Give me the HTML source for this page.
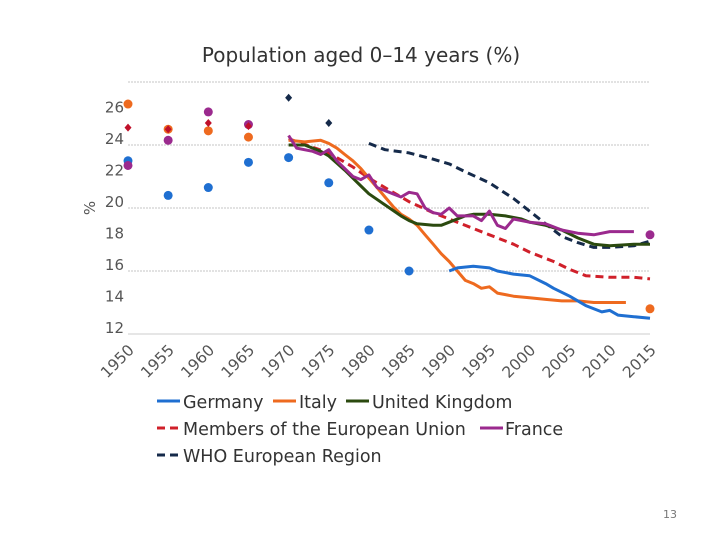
<!DOCTYPE html>
<html><head><meta charset="utf-8"><style>
html,body{margin:0;padding:0;background:#fff;}
svg{display:block;font-family:"DejaVu Sans","Liberation Sans",sans-serif;}
</style></head><body>
<svg id="c" width="720" height="540" viewBox="0 0 720 540">
<text x="361" y="62" text-anchor="middle" font-size="20" fill="#333">Population aged 0–14 years (%)</text>
<g id="grid"></g><g id="axes"></g><g id="marks"></g>
<text transform="translate(95,208) rotate(-90)" text-anchor="middle" font-size="15" fill="#555">%</text>
<g id="legend" font-size="17.5" fill="#333">
<line x1="157" y1="401" x2="180" y2="401" stroke="#1f6fd1" stroke-width="3"/><text x="183" y="408">Germany</text>
<line x1="273" y1="401" x2="296" y2="401" stroke="#ee6a1f" stroke-width="3"/><text x="299" y="408">Italy</text>
<line x1="346" y1="401" x2="369" y2="401" stroke="#2b4a0f" stroke-width="3"/><text x="372" y="408">United Kingdom</text>
<line x1="157" y1="428" x2="180" y2="428" stroke="#d0202a" stroke-width="3" stroke-dasharray="8,5"/><text x="183" y="435">Members of the European Union</text>
<line x1="480" y1="428" x2="503" y2="428" stroke="#9b2a8e" stroke-width="3"/><text x="505" y="435">France</text>
<line x1="157" y1="455" x2="180" y2="455" stroke="#152a4a" stroke-width="3" stroke-dasharray="8,5"/><text x="183" y="462">WHO European Region</text>
</g>
<text x="670" y="518" text-anchor="middle" font-size="11" fill="#777">13</text>
</svg>
<script>
const yTicks=[12,14,16,18,20,22,24,26];
const xTicks=[1950,1955,1960,1965,1970,1975,1980,1985,1990,1995,2000,2005,2010,2015];
const germanyDots=[[1950,23.0],[1955,20.8],[1960,21.3],[1965,22.9],[1970,23.2],[1975,21.6],[1980,18.6],[1985,16.0]];
const italyDots=[[1950,26.6],[1955,25.0],[1960,24.9],[1965,24.5],[2015,13.6]];
const franceDots=[[1950,22.7],[1955,24.3],[1960,26.1],[1965,25.3],[2015,18.3]];
const euDots=[[1950,25.1],[1955,25.0],[1960,25.4],[1965,25.2]];
const whoDots=[[1970,27.0],[1975,25.4]];
const germanyLine=[[1990,16.0],[1991,16.2],[1993,16.3],[1995,16.2],[1996,16.0],[1998,15.8],[2000,15.7],[2002,15.2],[2003,14.9],[2005,14.4],[2007,13.8],[2009,13.4],[2010,13.5],[2011,13.2],[2013,13.1],[2015,13.0]];
const italyLine=[[1970,24.3],[1972,24.2],[1974,24.3],[1975,24.1],[1976,23.8],[1977,23.4],[1978,23.0],[1979,22.5],[1980,21.9],[1981,21.3],[1982,20.7],[1983,20.1],[1984,19.6],[1985,19.3],[1986,18.9],[1987,18.3],[1988,17.7],[1989,17.1],[1990,16.6],[1991,16.0],[1992,15.4],[1993,15.2],[1994,14.9],[1995,15.0],[1996,14.6],[1997,14.5],[1998,14.4],[2000,14.3],[2002,14.2],[2004,14.1],[2006,14.1],[2008,14.0],[2012,14.0]];
const ukLine=[[1970,24.0],[1972,24.0],[1974,23.6],[1975,23.3],[1977,22.4],[1979,21.4],[1980,20.9],[1982,20.2],[1984,19.5],[1985,19.2],[1986,19.0],[1988,18.9],[1989,18.9],[1990,19.1],[1992,19.5],[1993,19.6],[1995,19.6],[1997,19.5],[1999,19.3],[2000,19.1],[2002,18.9],[2004,18.6],[2006,18.1],[2008,17.7],[2010,17.6],[2013,17.7],[2015,17.7]];
const euLine=[[1970,24.4],[1975,23.5],[1978,22.6],[1980,21.9],[1983,21.0],[1985,20.4],[1988,19.7],[1990,19.3],[1993,18.7],[1995,18.3],[1998,17.7],[2000,17.2],[2003,16.6],[2005,16.1],[2007,15.7],[2010,15.6],[2013,15.6],[2015,15.5]];
const franceLine=[[1970,24.6],[1971,23.8],[1973,23.6],[1974,23.4],[1975,23.7],[1976,23.0],[1978,22.0],[1979,21.8],[1980,22.1],[1981,21.3],[1983,20.9],[1984,20.7],[1985,21.0],[1986,20.9],[1987,20.0],[1988,19.7],[1989,19.6],[1990,20.0],[1991,19.5],[1993,19.5],[1994,19.2],[1995,19.8],[1996,18.9],[1997,18.7],[1998,19.3],[2000,19.1],[2002,19.0],[2004,18.6],[2006,18.4],[2008,18.3],[2010,18.5],[2013,18.5]];
const whoLine=[[1980,24.1],[1982,23.7],[1985,23.5],[1988,23.1],[1990,22.8],[1992,22.3],[1995,21.6],[1998,20.6],[2000,19.8],[2002,19.0],[2004,18.2],[2006,17.8],[2008,17.5],[2010,17.5],[2013,17.6],[2015,17.9]];
const NS='http://www.w3.org/2000/svg';
function X(yr){return 128+(yr-1950)*(650-128)/65;}
function Y(v){return 334-(v-12)*15.75;}
function mk(tag,attrs,parent){const e=document.createElementNS(NS,tag);for(const k in attrs)e.setAttribute(k,attrs[k]);document.getElementById(parent).appendChild(e);return e;}
[16,20,24,28].forEach(v=>{const g=mk('line',{x1:128,x2:650,y1:Y(v),y2:Y(v),stroke:'#c4c4c4','stroke-width':1,'stroke-dasharray':'2,1'},'grid');

});
const ax=mk('line',{x1:128,x2:650,y1:334,y2:334,stroke:'#ccc'},'axes');


yTicks.forEach(v=>{const t=mk('text',{x:124,y:Y(v)-1,'text-anchor':'end','font-size':15,fill:'#555'},'axes');t.textContent=v;

});
xTicks.forEach(v=>{const t=mk('text',{transform:`translate(${X(v)+7},${351}) rotate(-45)`,'text-anchor':'end','font-size':15.5,fill:'#555'},'axes');t.textContent=v;

});
function line(d,c,dash,name){const p=mk('path',{d:d.map((q,i)=>(i?'L':'M')+X(q[0]).toFixed(1)+','+Y(q[1]).toFixed(1)).join(''),fill:'none',stroke:c,'stroke-width':3,'stroke-linejoin':'round'},'marks');if(dash)p.setAttribute('stroke-dasharray','8,5');

}
function dots(d,c,name){d.forEach(q=>{const e=mk('circle',{cx:X(q[0]),cy:Y(q[1]),r:4.5,fill:c},'marks');

});}
function dia(d,c,name){d.forEach(q=>{const x=X(q[0]),y=Y(q[1]);const e=mk('path',{d:`M${x},${y-4}L${x+3.5},${y}L${x},${y+4}L${x-3.5},${y}Z`,fill:c},'marks');

});}
line(whoLine,'#152a4a',true,'who-line');
line(euLine,'#d0202a',true,'eu-line');
line(italyLine,'#ee6a1f',false,'italy-line');
line(germanyLine,'#1f6fd1',false,'germany-line');
line(ukLine,'#2b4a0f',false,'uk-line');
line(franceLine,'#9b2a8e',false,'france-line');
dots(germanyDots,'#1f6fd1','germany-dot');
dots(italyDots,'#ee6a1f','italy-dot');
dots(franceDots,'#9b2a8e','france-dot');
dia(euDots,'#c0102a','eu-diamond');
dia(whoDots,'#152a4a','who-diamond');
</script>
</body></html>
